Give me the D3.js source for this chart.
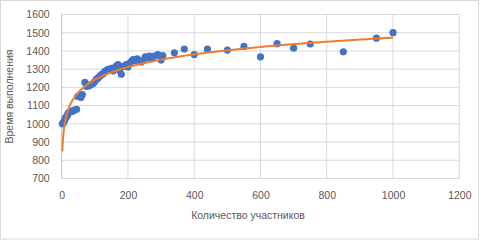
<!DOCTYPE html>
<html><head><meta charset="utf-8">
<script src="https://cdn.jsdelivr.net/npm/d3@7"></script>
<style>
html,body{margin:0;padding:0;background:#fff;}
svg{display:block;font-family:"Liberation Sans",Arial,sans-serif;}
</style></head>
<body>
<svg id="chart" width="481" height="240"></svg>
<script>
// Data
const participants = [2,5,8,10,12,15,18,20,25,28,32,38,45,
  48,55,62,58,
  70,75,82,88,95,100,105,110,115,120,125,130,138,145,150,155,160,165,170,175,180,185,195,200,205,210,215,220,228,235,240,245,252,258,265,272,280,290,300,305,
  340,370,400,440,500,550,600,650,700,750,850,950,1000];
const execTime = [1000,1005,1015,1025,1035,1040,1050,1060,1065,1070,1068,1075,1080,
  1150,1155,1160,1145,
  1228,1205,1208,1215,1222,1232,1245,1252,1262,1270,1275,1288,1298,1300,1305,1290,1308,1318,1325,1292,1272,1315,1325,1312,1332,1342,1352,1348,1357,1342,1338,1348,1368,1362,1372,1358,1372,1380,1350,1375,
  1390,1410,1380,1410,1405,1425,1368,1440,1415,1438,1395,1470,1500];
const xTicks = [0,200,400,600,800,1000,1200];
const yTicks = [700,800,900,1000,1100,1200,1300,1400,1500,1600];
const trendA = 100.4, trendB = 779.4; // logarithmic trendline y = a*ln(x) + b
const xTitle = "Количество участников";
const yTitle = "Время выполнения";

const svg = d3.select("#chart");
const pLeft = 61.7, pRight = 459.3, pTop = 14.5, pBottom = 178.5;
const x = d3.scaleLinear().domain([0,1200]).range([pLeft,pRight]);
const y = d3.scaleLinear().domain([700,1600]).range([pBottom,pTop]);

// chart border
svg.append("rect").attr("x",0.5).attr("y",0.5).attr("width",478).attr("height",238.5)
  .attr("fill","#fff").attr("stroke","#d9d9d9");

// gridlines
const grid = svg.append("g");
grid.selectAll("line.h").data(yTicks).join("line")
  .attr("x1",pLeft).attr("x2",pRight).attr("y1",d=>y(d)).attr("y2",d=>y(d))
  .attr("stroke","#d9d9d9").attr("stroke-width",1);
grid.selectAll("line.v").data(xTicks).join("line")
  .attr("y1",pTop).attr("y2",pBottom).attr("x1",d=>x(d)).attr("x2",d=>x(d))
  .attr("stroke",d=>d===0?"#bfbfbf":"#d9d9d9").attr("stroke-width",1);

// axes labels via d3 axes
const xAxis = svg.append("g").attr("transform",`translate(0,${pBottom})`)
  .call(d3.axisBottom(x).tickValues(xTicks).tickSize(0).tickPadding(13).tickFormat(d3.format("d")));
const yAxis = svg.append("g").attr("transform",`translate(${pLeft},0)`)
  .call(d3.axisLeft(y).tickValues(yTicks).tickSize(0).tickPadding(12).tickFormat(d3.format("d")));
[xAxis,yAxis].forEach(g=>{
  g.select(".domain").remove();
  g.selectAll("text").attr("fill","#595959").style("font-size","10.5px").style("font-family","'Liberation Sans',Arial,sans-serif");
});

// trendline
const xMin = d3.min(participants), xMax = d3.max(participants);
const trendPts = d3.range(0,301).map(i=>{
  const xv = xMin*Math.pow(xMax/xMin,i/300);
  return [xv, trendA*Math.log(xv)+trendB];
});

// points
svg.append("g").selectAll("circle").data(participants.map((p,i)=>[p,execTime[i]])).join("circle")
  .attr("cx",d=>x(d[0])).attr("cy",d=>y(d[1])).attr("r",3.6).attr("fill","#4472c4");

svg.append("path").datum(trendPts)
  .attr("d",d3.line().x(d=>x(d[0])).y(d=>y(d[1])).curve(d3.curveLinear))
  .attr("fill","none").attr("stroke","#ed7d31").attr("stroke-width",2);

// titles
svg.append("text").attr("x",248).attr("y",219).attr("text-anchor","middle")
  .attr("fill","#595959").style("font-size","10.5px").text(xTitle);
svg.append("text").attr("transform",`translate(13,${(pTop+pBottom)/2}) rotate(-90)`)
  .attr("text-anchor","middle").attr("fill","#595959").style("font-size","10.5px").text(yTitle);
</script>
</body></html>
